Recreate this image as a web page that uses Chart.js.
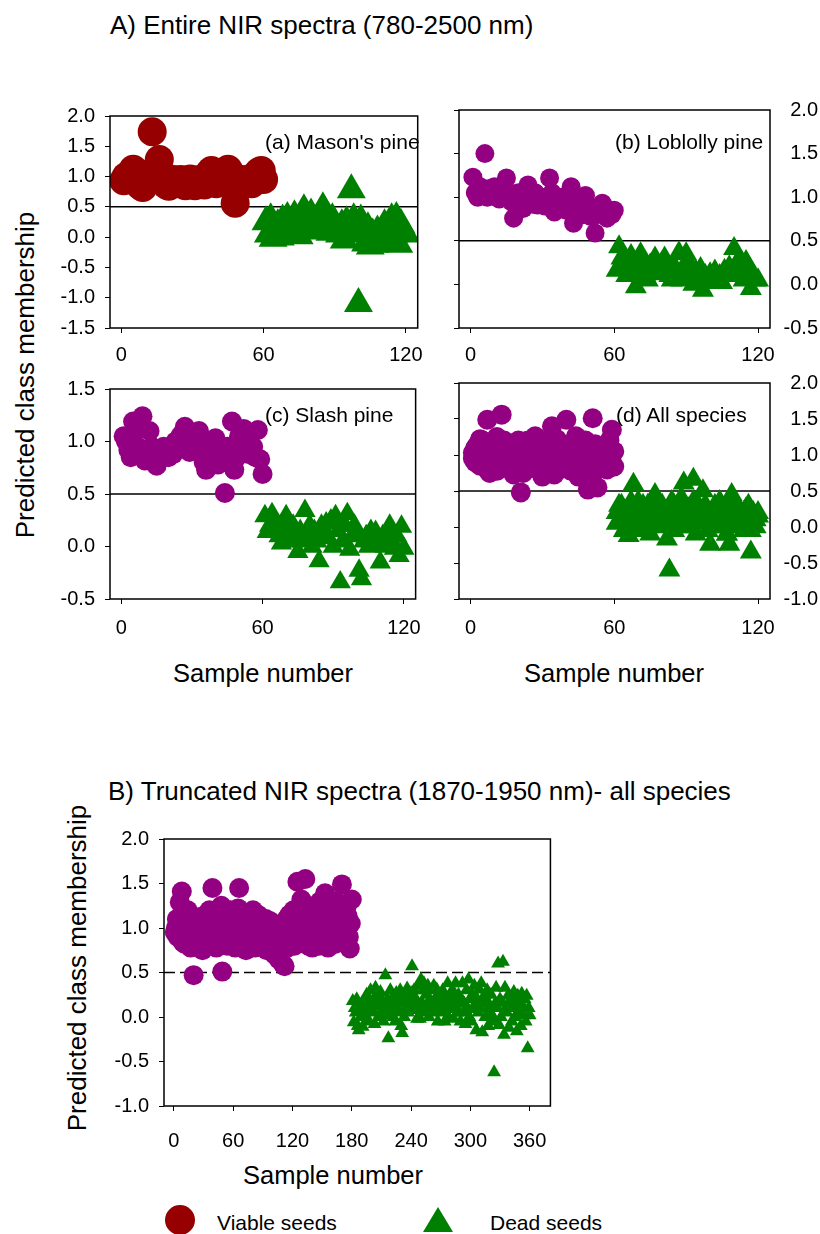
<!DOCTYPE html>
<html>
<head>
<meta charset="utf-8">
<script src="https://cdn.jsdelivr.net/npm/chart.js"></script>
<style>
body { margin: 0; background: #fff; }
#page { position: relative; width: 820px; height: 1234px; overflow: hidden; background: #fff;
        font-family: "Liberation Sans", Arial, Helvetica, sans-serif; color: #000; }
canvas { position: absolute; }
.t { position: absolute; white-space: nowrap; line-height: 1; }
.ytitle { position: absolute; white-space: nowrap; line-height: 1; font-size: 26px;
          transform: translate(-50%, -50%) rotate(-90deg); }
</style>
</head>
<body>
<div id="page">
  <div class="t" style="left:110px; top:12px; font-size:26px;">A) Entire NIR spectra (780-2500 nm)</div>
  <div class="ytitle" style="left:25px; top:375px;">Predicted class membership</div>

  <canvas id="panelA"></canvas>
  <canvas id="panelB"></canvas>
  <canvas id="panelC"></canvas>
  <canvas id="panelD"></canvas>
  <canvas id="panelTrunc"></canvas>

  <div class="t" style="left:265px; top:131px; font-size:21px;">(a) Mason's pine</div>
  <div class="t" style="left:615px; top:131px; font-size:21px;">(b) Loblolly pine</div>
  <div class="t" style="left:265px; top:404px; font-size:21px;">(c) Slash pine</div>
  <div class="t" style="left:616px; top:404px; font-size:21px;">(d) All species</div>

  <div class="t" style="left:263px; top:661px; font-size:25.5px; transform:translateX(-50%);">Sample number</div>
  <div class="t" style="left:614px; top:661px; font-size:25.5px; transform:translateX(-50%);">Sample number</div>

  <div class="t" style="left:108px; top:778px; font-size:26px;">B) Truncated NIR spectra (1870-1950 nm)- all species</div>
  <div class="ytitle" style="left:77px; top:968px;">Predicted class membership</div>
  <div class="t" style="left:333px; top:1163px; font-size:25.5px; transform:translateX(-50%);">Sample number</div>

  <svg style="position:absolute; left:160px; top:1200px;" width="320" height="34">
    <circle id="legViable" cx="20" cy="20" r="15"></circle>
    <polygon id="legDead" points="278,7 293,32 263,32"></polygon>
  </svg>
  <div class="t" style="left:217px; top:1212px; font-size:21px;">Viable seeds</div>
  <div class="t" style="left:490px; top:1212px; font-size:21px;">Dead seeds</div>
</div>

<script>
// colours
var DARK_RED = '#960000';
var PURPLE = '#940082';
var GREEN = '#008000';

// axis ticks
var sampleTicks = [0, 60, 120];
var sampleTicksTrunc = [0, 60, 120, 180, 240, 300, 360];
var yTicksA = [-1.5, -1.0, -0.5, 0.0, 0.5, 1.0, 1.5, 2.0];
var yTicksB = [-0.5, 0.0, 0.5, 1.0, 1.5, 2.0];
var yTicksC = [-0.5, 0.0, 0.5, 1.0, 1.5];
var yTicksD = [-1.0, -0.5, 0.0, 0.5, 1.0, 1.5, 2.0];
var threshold = 0.5;

// (a) Mason's pine: viable samples 1-60, dead samples 61-120
var masonViable = [0.93, 1.00, 0.95, 1.05, 1.12, 1.08, 1.00, 0.85, 0.82, 0.90,
  0.95, 1.02, 1.74, 1.05, 1.15, 1.28, 1.05, 0.92, 0.86, 0.84,
  0.90, 0.95, 0.90, 0.88, 0.95, 0.90, 0.85, 0.93, 0.96, 0.88,
  0.85, 0.92, 0.95, 0.90, 0.86, 0.95, 1.05, 1.10, 0.95, 0.88,
  0.92, 1.02, 0.95, 1.08, 1.12, 1.05, 0.90, 0.56, 0.95, 0.90,
  0.95, 0.88, 0.92, 0.95, 0.88, 1.00, 0.95, 1.08, 1.10, 0.95];
var masonDead = [0.25, 0.05, 0.30, -0.02, 0.15, 0.20, 0.00, 0.28, 0.10, 0.32,
  0.05, 0.22, 0.35, 0.15, 0.02, 0.30, 0.45, 0.20, 0.10, 0.38,
  0.25, 0.12, 0.30, 0.18, 0.48, 0.40, 0.22, 0.08, 0.30, 0.15,
  0.10, 0.05, 0.20, -0.05, 0.25, 0.10, 0.78, 0.30, 0.12, -1.10,
  0.28, 0.05, -0.10, 0.15, -0.15, 0.05, -0.12, 0.10, -0.05, 0.02,
  0.20, -0.10, 0.15, 0.30, 0.05, 0.32, -0.12, 0.20, 0.10, 0.05];

// (b) Loblolly pine
var loblollyViable = [1.23, 1.05, 1.00, 1.12, 1.08, 1.50, 1.00, 1.10, 1.05, 1.12,
  1.00, 0.98, 1.08, 1.15, 1.22, 1.05, 0.95, 0.76, 0.90, 1.05,
  1.00, 0.87, 0.95, 1.14, 1.00, 0.92, 1.05, 0.91, 0.95, 1.00,
  0.90, 1.00, 1.22, 1.05, 0.83, 0.95, 0.88, 1.00, 0.92, 0.85,
  0.95, 1.12, 0.70, 0.85, 0.95, 1.00, 0.80, 1.02, 0.90, 0.78,
  0.85, 0.59, 0.80, 0.90, 0.93, 0.82, 0.76, 0.85, 0.80, 0.85];
var loblollyDead = [0.16, 0.43, 0.30, 0.20, 0.10, 0.25, 0.33, 0.15, -0.03, 0.20,
  0.35, 0.25, 0.10, 0.05, 0.22, 0.15, 0.30, 0.20, 0.12, 0.25,
  0.30, 0.18, 0.10, 0.05, 0.20, 0.15, 0.36, 0.05, 0.20, 0.35,
  0.25, 0.10, 0.00, 0.15, 0.05, 0.18, -0.07, 0.10, 0.02, 0.12,
  0.05, 0.15, 0.08, 0.10, 0.02, 0.16, 0.10, 0.20, 0.12, 0.41,
  0.22, 0.28, 0.15, 0.05, 0.26, 0.20, -0.05, 0.10, 0.05, 0.05];

// (c) Slash pine
var slashViable = [1.05, 1.00, 0.92, 0.85, 1.19, 1.10, 0.95, 1.15, 1.24, 0.82,
  0.90, 1.10, 0.95, 0.85, 0.77, 0.90, 0.88, 0.95, 0.90, 0.85,
  0.92, 0.88, 1.00, 0.95, 1.05, 1.08, 1.14, 0.95, 0.90, 1.00,
  0.95, 1.05, 1.10, 0.95, 0.80, 0.73, 0.85, 0.90, 0.95, 1.03,
  0.78, 0.90, 0.85, 0.51, 0.95, 0.90, 1.19, 0.73, 0.85, 1.05,
  0.92, 1.12, 0.95, 0.88, 1.08, 0.95, 0.85, 1.11, 0.83, 0.69];
var slashDead = [0.29, 0.14, 0.20, 0.31, 0.25, 0.18, 0.10, 0.03, 0.22, 0.29,
  0.15, 0.05, 0.20, 0.10, -0.05, 0.15, 0.05, 0.34, 0.10, 0.20,
  0.00, 0.15, 0.05, -0.14, 0.20, 0.10, 0.22, 0.08, 0.25, 0.00,
  0.29, 0.15, -0.34, 0.05, 0.20, 0.31, -0.03, 0.10, 0.20, 0.11,
  -0.23, -0.31, 0.05, 0.10, 0.00, 0.15, 0.02, 0.14, 0.05, -0.15,
  0.10, 0.00, 0.15, 0.20, 0.05, -0.02, 0.10, -0.09, 0.19, -0.02];

// (d) All species: two overlaid runs over the same sample numbers
var allViable = [1.03, 0.90, 1.15, 0.85, 1.20, 1.00, 1.49, 0.75, 1.10, 0.95,
  1.25, 0.90, 1.56, 1.05, 0.85, 1.15, 0.95, 0.73, 1.00, 1.20,
  0.48, 0.90, 1.10, 0.85, 1.00, 1.15, 1.26, 0.90, 1.05, 0.70,
  0.95, 1.20, 1.00, 1.40, 0.73, 1.05, 0.90, 1.15, 1.00, 1.49,
  0.85, 1.10, 0.95, 1.26, 0.70, 1.00, 0.90, 1.20, 0.52, 1.05,
  1.51, 0.85, 0.55, 1.10, 0.95, 1.00, 0.80, 1.20, 1.35, 0.84,
  0.95, 1.10, 0.88, 1.22, 0.95, 1.05, 0.80, 1.15, 0.90, 1.00,
  0.78, 1.10, 0.95, 1.20, 0.85, 0.90, 1.05, 0.98, 0.82, 1.10,
  0.95, 0.75, 1.00, 1.20, 0.88, 0.95, 1.05, 0.80, 1.15, 0.95,
  0.85, 1.00, 1.10, 0.90, 0.95, 1.22, 0.80, 0.90, 1.05, 0.95,
  1.15, 0.78, 1.00, 0.90, 1.10, 0.85, 1.20, 0.95, 0.75, 0.90,
  1.05, 1.15, 0.80, 0.95, 1.00, 0.85, 1.10, 0.95, 0.90, 1.05];
var allDead = [0.20, 0.10, 0.30, -0.05, 0.15, -0.12, 0.25, 0.59, 0.10, 0.35,
  0.00, 0.20, 0.05, 0.30, -0.10, 0.15, 0.45, 0.10, 0.25, 0.00,
  0.20, -0.17, -0.60, 0.15, 0.30, 0.05, 0.20, 0.40, 0.61, 0.10,
  0.25, 0.00, 0.66, 0.15, 0.30, 0.10, 0.50, 0.20, -0.05, -0.24,
  0.15, 0.30, 0.00, 0.20, 0.10, 0.25, -0.10, -0.24, 0.45, 0.15,
  0.30, 0.05, 0.20, -0.05, 0.25, 0.10, -0.35, 0.20, 0.00, 0.15,
  0.05, 0.30, 0.15, 0.20, 0.00, 0.10, 0.35, 0.20, -0.05, 0.25,
  0.10, 0.30, 0.15, 0.00, 0.20, 0.35, 0.05, 0.25, 0.10, 0.30,
  0.15, 0.05, 0.20, 0.35, -0.05, 0.10, 0.25, 0.15, 0.30, 0.00,
  0.20, 0.10, 0.35, -0.10, 0.25, 0.15, 0.05, 0.30, 0.20, 0.10,
  0.00, 0.25, 0.15, 0.35, 0.05, 0.20, -0.10, 0.10, 0.30, 0.15,
  0.00, 0.25, 0.10, 0.20, 0.05, 0.30, -0.05, 0.15, 0.10, 0.20];

// B) truncated spectra, all species: viable samples 1-180, dead samples 181-360
var truncViable = [0.95, 1.00, 1.10, 0.90, 1.05, 1.29, 0.98, 1.41, 0.84, 1.05,
  0.82, 1.15, 0.95, 1.20, 0.90, 1.00, 0.78, 1.10, 0.95, 0.47,
  1.05, 0.88, 1.12, 0.95, 0.80, 1.00, 1.08, 0.90, 0.75, 1.02,
  0.95, 1.15, 0.85, 1.00, 0.90, 1.20, 0.95, 1.05, 1.45, 0.82,
  1.10, 0.92, 0.78, 1.00, 1.18, 0.90, 1.05, 1.25, 0.51, 0.95,
  1.12, 0.88, 1.00, 0.80, 1.15, 0.95, 1.20, 0.85, 1.05, 0.90,
  1.10, 0.78, 1.00, 0.95, 1.22, 1.45, 0.88, 1.05, 0.92, 1.10,
  0.85, 1.00, 0.75, 1.15, 0.95, 1.05, 0.82, 1.10, 0.90, 1.20,
  0.95, 0.78, 1.08, 0.90, 1.15, 0.85, 1.00, 1.12, 0.80, 0.95,
  1.05, 0.88, 1.10, 0.75, 1.00, 0.92, 1.08, 0.80, 0.95, 0.85,
  0.90, 0.70, 0.95, 0.78, 0.88, 0.65, 0.92, 0.75, 0.85, 0.60,
  0.80, 0.57, 0.90, 1.10, 0.78, 1.00, 1.15, 0.85, 1.05, 0.95,
  1.20, 0.80, 1.00, 1.10, 1.52, 0.88, 1.05, 0.95, 1.32, 1.15,
  0.85, 1.00, 1.55, 0.90, 1.10, 0.80, 1.20, 0.95, 1.05, 0.78,
  1.12, 0.90, 1.25, 0.85, 1.00, 1.15, 0.80, 1.30, 0.95, 1.08,
  0.88, 1.20, 1.39, 0.90, 1.05, 0.78, 1.15, 0.95, 1.25, 0.85,
  1.00, 1.10, 0.82, 1.30, 0.95, 1.05, 0.88, 1.20, 0.92, 1.49,
  1.00, 0.85, 1.15, 0.95, 1.25, 1.13, 0.90, 0.77, 1.05, 1.32];
var truncDead = [0.18, -0.06, 0.10, 0.05, 0.20, -0.10, -0.15, 0.12, 0.00, 0.15,
  -0.11, 0.08, 0.20, 0.02, 0.25, 0.09, -0.05, 0.15, 0.30, 0.10,
  0.05, 0.20, -0.08, 0.33, 0.12, 0.24, 0.00, 0.15, 0.28, 0.05,
  0.18, -0.05, 0.10, 0.47, 0.02, 0.20, -0.24, 0.12, 0.30, 0.08,
  0.22, 0.00, 0.15, -0.05, 0.27, 0.10, 0.20, 0.05, 0.30, -0.10,
  -0.18, 0.15, 0.00, 0.25, 0.10, 0.32, 0.05, 0.20, 0.12, 0.27,
  0.57, 0.15, 0.30, 0.08, 0.20, -0.02, 0.35, 0.10, -0.02, 0.42,
  0.16, 0.30, 0.38, 0.05, 0.25, 0.12, 0.35, 0.00, 0.20, 0.10,
  0.30, 0.05, 0.35, 0.15, 0.22, 0.31, -0.05, 0.10, 0.25, 0.16,
  0.05, 0.30, 0.12, -0.05, 0.20, 0.10, 0.38, 0.00, 0.25, 0.15,
  0.09, 0.30, -0.02, 0.20, 0.38, 0.10, 0.05, 0.25, 0.16, -0.05,
  0.20, 0.38, 0.05, 0.15, -0.08, 0.30, 0.10, 0.42, 0.00, 0.20,
  -0.05, 0.25, 0.09, 0.35, 0.15, -0.15, 0.20, 0.05, 0.31, 0.10,
  0.38, -0.17, 0.15, 0.24, 0.00, 0.20, 0.30, -0.10, 0.10, 0.05,
  0.25, 0.02, -0.05, -0.62, 0.15, 0.33, 0.10, 0.60, -0.09, 0.20,
  0.00, 0.16, 0.62, -0.20, 0.33, 0.10, 0.05, 0.24, -0.12, 0.15,
  0.20, -0.05, 0.10, 0.28, 0.00, 0.13, -0.16, 0.24, 0.05, 0.18,
  -0.10, 0.26, 0.10, 0.02, 0.20, -0.05, 0.24, -0.35, 0.10, 0.02];

var FONT = '"Liberation Sans", Arial, Helvetica, sans-serif';
Chart.defaults.font.family = FONT;
Chart.defaults.font.size = 20;
Chart.defaults.color = '#000';

document.getElementById('legViable').setAttribute('fill', DARK_RED);
document.getElementById('legDead').setAttribute('fill', GREEN);

// turn a list of values into points; period lets several runs share sample numbers
function toPoints(values, first, period) {
  return values.map(function (v, i) {
    return { x: first + (period ? i % period : i), y: v };
  });
}

// box round the plot area, like the original graphs
var framePlugin = {
  id: 'frame',
  afterDraw: function (chart) {
    var a = chart.chartArea, ctx = chart.ctx;
    ctx.save();
    ctx.strokeStyle = '#000';
    ctx.lineWidth = 1.5;
    ctx.strokeRect(a.left, a.top, a.right - a.left, a.bottom - a.top);
    ctx.restore();
  }
};

function fixedTicks(list) {
  return function (scale) {
    scale.ticks = list.map(function (v) { return { value: v }; });
  };
}

function makePanel(id, area, spec) {
  var right = !!spec.labelsRight;
  var padT = 16;
  var leftW = right ? 10 : 70;
  var rightW = right ? 48 : 0;
  var padR = right ? 2 : 12;
  var cv = document.getElementById(id);
  cv.width = leftW + (area.right - area.left) + rightW + padR;
  cv.height = padT + (area.bottom - area.top) + spec.xAxisH;
  cv.style.left = (area.left - leftW) + 'px';
  cv.style.top = (area.top - padT) + 'px';

  var tickGrid = { display: true, drawOnChartArea: false, drawTicks: true, tickLength: 5, color: '#000', lineWidth: 1 };

  var scales = {
    x: {
      type: 'linear', position: 'bottom', min: spec.xMin, max: spec.xMax,
      afterBuildTicks: fixedTicks(spec.xTicks),
      afterFit: function (s) { s.height = spec.xAxisH; },
      grid: tickGrid,
      border: { display: false },
      ticks: { padding: spec.xPad, maxRotation: 0, autoSkip: false, callback: function (v) { return String(v); } }
    },
    y: {
      type: 'linear', position: 'left', min: spec.yTicks[0], max: spec.yTicks[spec.yTicks.length - 1],
      afterBuildTicks: fixedTicks(spec.yTicks),
      afterFit: function (s) { s.width = leftW; },
      grid: tickGrid,
      border: { display: false },
      ticks: { display: !right, padding: 10, callback: function (v) { return v.toFixed(1); } }
    }
  };
  if (right) {
    scales.y2 = {
      type: 'linear', position: 'right', min: spec.yTicks[0], max: spec.yTicks[spec.yTicks.length - 1],
      afterBuildTicks: fixedTicks(spec.yTicks),
      afterFit: function (s) { s.width = rightW; },
      grid: { display: false },
      border: { display: false },
      ticks: { crossAlign: 'far', padding: 0, callback: function (v) { return v.toFixed(1); } }
    };
  }

  return new Chart(cv, {
    type: 'scatter',
    data: {
      datasets: [
        {
          label: 'threshold', type: 'line',
          data: [{ x: spec.xMin, y: threshold }, { x: spec.xMax, y: threshold }],
          borderColor: '#000', borderWidth: 1.5, borderDash: spec.dashed ? [11, 5] : [],
          pointRadius: 0, order: 3
        },
        {
          label: 'Viable seeds', data: spec.viable, pointStyle: 'circle',
          pointRadius: spec.rViable, pointBackgroundColor: spec.viableColor,
          pointBorderColor: spec.viableColor, pointBorderWidth: 0, order: 2
        },
        {
          label: 'Dead seeds', data: spec.dead, pointStyle: 'triangle',
          pointRadius: spec.rDead, pointBackgroundColor: GREEN,
          pointBorderColor: GREEN, pointBorderWidth: 0, order: 1
        }
      ]
    },
    options: {
      responsive: false,
      animation: false,
      events: [],
      layout: { autoPadding: false, padding: { top: padT, right: padR, bottom: 0, left: 0 } },
      plugins: { legend: { display: false }, tooltip: { enabled: false } },
      scales: scales
    },
    plugins: [framePlugin]
  });
}

var topX = { xMin: -4.8, xMax: 125, xTicks: sampleTicks, xAxisH: 50, xPad: 10 };

makePanel('panelA', { left: 110, top: 110, right: 421, bottom: 328 }, Object.assign({}, topX, {
  yTicks: yTicksA, viable: toPoints(masonViable, 1), dead: toPoints(masonDead, 61),
  viableColor: DARK_RED, rViable: 14.5, rDead: 16.7
}));
makePanel('panelB', { left: 459, top: 110, right: 770, bottom: 328 }, Object.assign({}, topX, {
  labelsRight: true, yTicks: yTicksB, viable: toPoints(loblollyViable, 1), dead: toPoints(loblollyDead, 61),
  viableColor: PURPLE, rViable: 9.5, rDead: 12.7
}));
makePanel('panelC', { left: 110, top: 383, right: 421, bottom: 599 }, Object.assign({}, topX, {
  xPad: 12, yTicks: yTicksC, viable: toPoints(slashViable, 1), dead: toPoints(slashDead, 61),
  viableColor: PURPLE, rViable: 10, rDead: 12.3
}));
makePanel('panelD', { left: 459, top: 383, right: 770, bottom: 599 }, Object.assign({}, topX, {
  xPad: 12, labelsRight: true, yTicks: yTicksD, viable: toPoints(allViable, 1, 60), dead: toPoints(allDead, 61, 60),
  viableColor: PURPLE, rViable: 10, rDead: 12.7
}));
makePanel('panelTrunc', { left: 164, top: 833, right: 553, bottom: 1106 }, {
  xMin: -10, xMax: 381, xTicks: sampleTicksTrunc, xAxisH: 50, xPad: 18, dashed: true,
  yTicks: yTicksD, viable: toPoints(truncViable, 1), dead: toPoints(truncDead, 181),
  viableColor: PURPLE, rViable: 10, rDead: 8
});
</script>
</body>
</html>
